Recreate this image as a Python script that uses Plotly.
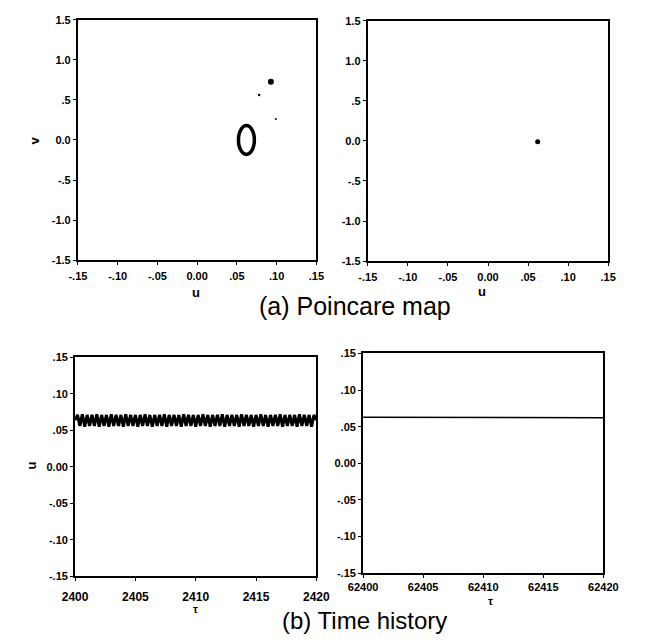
import plotly.graph_objects as go

W, H = 647, 642

# ---------------- data ----------------
# (a) left: Poincare points forming a small closed loop + a few stray points
loop_u = [0.0720, 0.0713, 0.0691, 0.0659, 0.0620, 0.0581, 0.0549, 0.0527, 0.0520,
          0.0527, 0.0549, 0.0581, 0.0620, 0.0659, 0.0691, 0.0713, 0.0720]
loop_v = [0.000, 0.069, 0.127, 0.166, 0.180, 0.166, 0.127, 0.069, 0.000,
          -0.069, -0.127, -0.166, -0.180, -0.166, -0.127, -0.069, 0.000]
stray_u = [0.0928, 0.0780, 0.0990]
stray_v = [0.725, 0.560, 0.260]
stray_size = [6, 2.5, 2]

# (a) right: single fixed point
fixed_u = [0.062]
fixed_v = [-0.01]

# (b) left: oscillating time history (peaks/troughs)
tau_left = [2400 + 0.2 * i for i in range(101)]
u_left = [0.064, 0.071, 0.056, 0.072, 0.055, 0.071, 0.056, 0.071, 0.056, 0.072,
          0.055, 0.071, 0.056, 0.071, 0.055, 0.072, 0.056, 0.071, 0.056, 0.071,
          0.055, 0.072, 0.056, 0.071, 0.056, 0.071, 0.055, 0.071, 0.056, 0.072,
          0.056, 0.071, 0.055, 0.071, 0.056, 0.071, 0.056, 0.072, 0.055, 0.071,
          0.056, 0.071, 0.056, 0.071, 0.055, 0.072, 0.056, 0.071, 0.056, 0.071,
          0.055, 0.071, 0.056, 0.072, 0.056, 0.071, 0.055, 0.071, 0.056, 0.071,
          0.056, 0.072, 0.055, 0.071, 0.056, 0.071, 0.056, 0.071, 0.055, 0.072,
          0.056, 0.071, 0.056, 0.071, 0.055, 0.071, 0.056, 0.072, 0.056, 0.071,
          0.055, 0.071, 0.056, 0.071, 0.056, 0.072, 0.055, 0.071, 0.056, 0.071,
          0.056, 0.071, 0.055, 0.072, 0.056, 0.071, 0.056, 0.071, 0.055, 0.071,
          0.064]
# (b) right: steady state
tau_right = [62400, 62420]
u_right = [0.063, 0.062]

# tick labels
uv_x_vals = [-0.15, -0.10, -0.05, 0.0, 0.05, 0.10, 0.15]
uv_x_text = ["-.15", "-.10", "-.05", "0.00", ".05", ".10", ".15"]
v_vals = [-1.5, -1.0, -0.5, 0.0, 0.5, 1.0, 1.5]
v_text = ["-1.5", "-1.0", "-.5", "0.0", ".5", "1.0", "1.5"]
u_vals = [-0.15, -0.10, -0.05, 0.0, 0.05, 0.10, 0.15]
u_text = ["-.15", "-.10", "-.05", "0.00", ".05", ".10", ".15"]
tl_vals = [2400, 2405, 2410, 2415, 2420]
tr_vals = [62400, 62405, 62410, 62415, 62420]

FONT = "Liberation Sans"


def px_x(p):
    return p / W


def px_y(p):
    return 1 - p / H


fig = go.Figure()

# (a) left
fig.add_trace(go.Scatter(x=loop_u, y=loop_v, mode="lines",
                         line=dict(color="black", width=3.5, shape="spline"),
                         xaxis="x", yaxis="y", showlegend=False))
fig.add_trace(go.Scatter(x=stray_u, y=stray_v, mode="markers",
                         marker=dict(color="black", size=stray_size, opacity=1,
                                     line=dict(width=0, color="black")),
                         xaxis="x", yaxis="y", showlegend=False))
# (a) right
fig.add_trace(go.Scatter(x=fixed_u, y=fixed_v, mode="markers",
                         marker=dict(color="black", size=5, opacity=1, line=dict(width=0, color="black")),
                         xaxis="x2", yaxis="y2", showlegend=False))
# (b) left
fig.add_trace(go.Scatter(x=tau_left, y=u_left, mode="lines", line=dict(color="black", width=3),
                         xaxis="x3", yaxis="y3", showlegend=False))
# (b) right
fig.add_trace(go.Scatter(x=tau_right, y=u_right, mode="lines", line=dict(color="black", width=1.5),
                         xaxis="x4", yaxis="y4", showlegend=False))


def tf(size):
    return dict(family=FONT, size=size, color="black", weight="bold")


common = dict(showgrid=False, zeroline=False, showline=True, linecolor="black", linewidth=2,
              mirror=True, ticks="outside", ticklen=3, tickwidth=1, tickcolor="black",
              fixedrange=True)

fig.update_layout(
    width=W, height=H, margin=dict(l=0, r=0, t=0, b=0),
    paper_bgcolor="white", plot_bgcolor="white",
    xaxis=dict(domain=[px_x(66), px_x(316)], range=[-0.15, 0.15], tickvals=uv_x_vals, ticktext=uv_x_text,
               anchor="y", ticklabelstandoff=2, tickfont=tf(11), **common),
    yaxis=dict(domain=[px_y(259), px_y(14)], range=[-1.5, 1.5], tickvals=v_vals, ticktext=v_text,
               anchor="x", tickfont=tf(11), **common),
    xaxis2=dict(domain=[px_x(370), px_x(622)], range=[-0.15, 0.15], tickvals=uv_x_vals, ticktext=uv_x_text,
                anchor="y2", ticklabelstandoff=2, tickfont=tf(11), **common),
    yaxis2=dict(domain=[px_y(260), px_y(15)], range=[-1.5, 1.5], tickvals=v_vals, ticktext=v_text,
                anchor="x2", tickfont=tf(11), **common),
    xaxis3=dict(domain=[px_x(63), px_x(316)], range=[2400, 2420], tickvals=tl_vals,
                ticktext=[str(v) for v in tl_vals], anchor="y3", ticklabelstandoff=5, tickfont=tf(12), **common),
    yaxis3=dict(domain=[px_y(581), px_y(358)], range=[-0.15, 0.15], tickvals=u_vals, ticktext=u_text,
                anchor="x3", tickfont=tf(11), **common),
    xaxis4=dict(domain=[px_x(365), px_x(617)], range=[62400, 62420], tickvals=tr_vals,
                ticktext=[str(v) for v in tr_vals], anchor="y4", ticklabelstandoff=0, tickfont=tf(11), **common),
    yaxis4=dict(domain=[px_y(578), px_y(354)], range=[-0.15, 0.15], tickvals=u_vals, ticktext=u_text,
                anchor="x4", tickfont=tf(11), **common),
)


def ann(text, x, y, size, angle=0, bold=False):
    fig.add_annotation(text=text, x=px_x(x), y=px_y(y), xref="paper", yref="paper",
                       xanchor="center", yanchor="middle", showarrow=False, textangle=angle,
                       font=dict(family=FONT, size=size, color="black", weight="bold" if bold else "normal"))


ann("u", 190, 292, 13, bold=True)
ann("u", 490, 291, 13, bold=True)
ann("v", 20, 137, 13, angle=-90, bold=True)
ann("u", 17, 468, 13, angle=-90, bold=True)
ann("τ", 189, 614, 11, bold=True)
ann("τ", 499, 606, 11, bold=True)
ann("(a) Poincare map", 357, 306, 25)
ann("(b) Time history", 366, 626, 24)

fig.write_html("out.html")
